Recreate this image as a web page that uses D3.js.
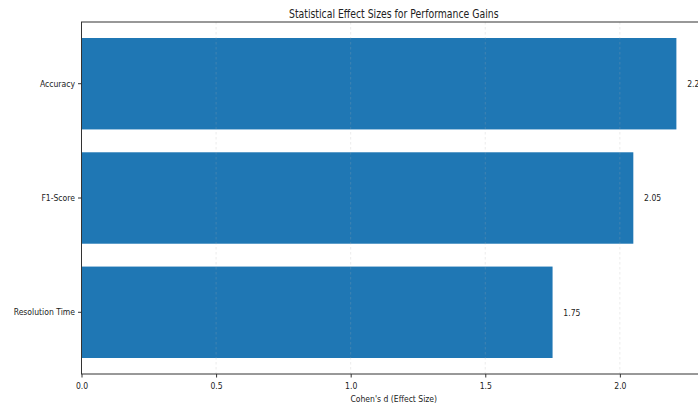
<!DOCTYPE html>
<html>
<head>
<meta charset="utf-8">
<script src="https://cdn.jsdelivr.net/npm/d3@7/dist/d3.min.js"></script>
<style>
  html, body { margin: 0; padding: 0; background: #fff; }
  svg { display: block; }
  text { font-family: "DejaVu Sans", sans-serif; fill: #222; }
</style>
</head>
<body>
<svg id="chart" width="698" height="404"></svg>
<script>
// Effect sizes (Cohen's d) per metric, top to bottom
const categories = ["Accuracy", "F1-Score", "Resolution Time"];
const effectSizes = [2.21, 2.05, 1.75];
const xTickValues = [0, 0.5, 1.0, 1.5, 2.0];
const xLimit = [0, 2.32];
const labelOffset = 0.04;

const W = 698, H = 404;
const plot = { left: 81.5, right: 706, top: 22, bottom: 374 };
const SX = 0.81; // horizontal squeeze applied to all text

const svg = d3.select("#chart");

const x = d3.scaleLinear().domain(xLimit).range([plot.left, plot.right]);
const y = d3.scaleBand()
  .domain(categories)
  .range([plot.top, plot.bottom])
  .paddingInner(0.2)
  .paddingOuter(0.14);

function squeezedText(g, tx, ty, str, size, anchor) {
  const holder = g.append("g").attr("transform", `translate(${tx},${ty})`);
  return holder.append("text")
    .attr("transform", `scale(${SX},1)`)
    .attr("text-anchor", anchor)
    .style("font-size", size + "px")
    .text(str);
}

// Bars
svg.append("g").selectAll("rect")
  .data(categories)
  .join("rect")
  .attr("x", x(0))
  .attr("y", d => y(d))
  .attr("width", (d, i) => x(effectSizes[i]) - x(0))
  .attr("height", y.bandwidth())
  .attr("fill", "#1f77b4");

// Vertical grid, drawn over the bars
svg.append("g").selectAll("line")
  .data(xTickValues)
  .join("line")
  .attr("x1", d => x(d)).attr("x2", d => x(d))
  .attr("y1", plot.top).attr("y2", plot.bottom)
  .attr("stroke", "#b0b0b0")
  .attr("stroke-opacity", 0.3)
  .attr("stroke-width", 0.8)
  .attr("stroke-dasharray", "2.5,2.5");

// Value labels
const labels = svg.append("g");
categories.forEach((c, i) => {
  squeezedText(labels, x(effectSizes[i] + labelOffset), y(c) + y.bandwidth() / 2,
    effectSizes[i].toFixed(2), 9.5, "start").attr("dy", "0.35em");
});

// Axes
const xAxis = svg.append("g")
  .attr("transform", `translate(0,${plot.bottom})`)
  .call(d3.axisBottom(x).tickValues(xTickValues).tickFormat(d3.format(".1f"))
    .tickSize(3.5).tickPadding(5));
xAxis.select(".domain").remove();
xAxis.selectAll("text")
  .attr("transform", `scale(${SX},1)`)
  .style("font-size", "9.5px")
  .attr("fill", "#222");
xAxis.selectAll(".tick line").attr("stroke", "#333");

const yAxis = svg.append("g")
  .attr("transform", `translate(${plot.left},0)`)
  .call(d3.axisLeft(y).tickSize(3.5).tickPadding(3));
yAxis.select(".domain").remove();
yAxis.selectAll("text")
  .attr("x", -6.5 / SX)
  .attr("transform", `scale(${SX},1)`)
  .style("font-size", "9.5px")
  .attr("fill", "#222");
yAxis.selectAll(".tick line").attr("stroke", "#333");

// Frame
svg.append("rect")
  .attr("x", plot.left).attr("y", plot.top)
  .attr("width", plot.right - plot.left).attr("height", plot.bottom - plot.top)
  .attr("fill", "none").attr("stroke", "#333").attr("stroke-width", 1);

// Title and axis label
const cx = (plot.left + plot.right) / 2;
squeezedText(svg, cx, 18, "Statistical Effect Sizes for Performance Gains", 11.5, "middle");
squeezedText(svg, cx, 402, "Cohen's d (Effect Size)", 9.5, "middle");
</script>
</body>
</html>
